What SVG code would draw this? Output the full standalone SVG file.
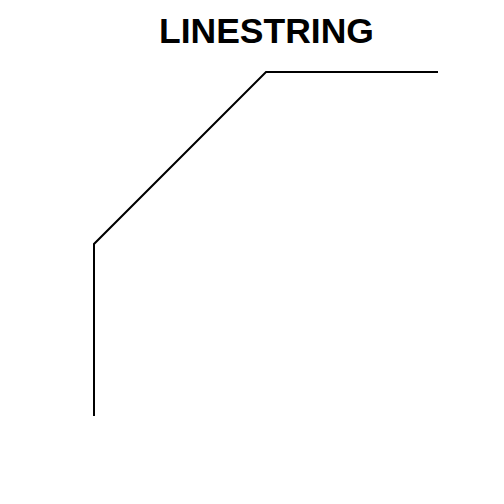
<svg xmlns="http://www.w3.org/2000/svg" width="504" height="504" viewBox="0 0 504 504">
<style>
.title{font-family:"Liberation Sans",Arial,sans-serif;font-weight:bold;font-size:35.5px;fill:#000}
.ls{fill:none;stroke:#000;stroke-width:2;stroke-linejoin:miter}
</style>
<rect width="504" height="504" fill="#fff"/>
<text class="title" x="266.5" y="43" text-anchor="middle">LINESTRING</text>
<g id="connectors">
<polyline class="ls" points="94,416 94,244 266,72 438,72"/>
</g>
</svg>
